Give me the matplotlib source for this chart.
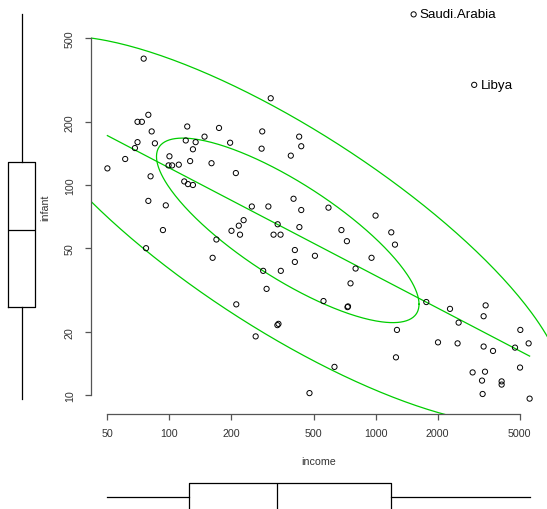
import numpy as np
import matplotlib
matplotlib.use('Agg')
import matplotlib.pyplot as plt
from matplotlib.ticker import NullLocator

plt.rcParams['font.family'] = ['Liberation Sans', 'DejaVu Sans']

# income vs infant mortality (log-log)
income = [75, 310, 1530, 3010, 79, 70, 73.5, 82, 122, 174, 148, 70, 85, 68, 120,
          134, 130, 197, 61, 100, 50, 99, 103, 111, 126, 160, 210, 81, 118, 123,
          130, 79, 96, 229, 217, 200, 93, 77, 169, 220, 162, 211, 282, 426, 436,
          280, 388, 400, 251, 302, 436, 591, 1000, 335, 427, 683, 320, 346, 726,
          406, 406, 508, 956, 800, 285, 347, 756, 296, 559, 731, 735, 334, 338,
          262, 632, 478, 1192, 1242, 1763, 2297, 3420, 3344, 2529, 1270, 5039,
          2009, 2500, 3344, 3714, 4749, 5529, 1256, 5023, 2957, 3396, 3285, 4089,
          4089, 3307, 5590]
infant = [400, 259, 650, 300, 216, 200, 200, 180, 190, 187, 170, 160, 158, 150,
          163, 160, 148, 159, 133, 137, 120, 124, 124, 125, 130, 127, 114, 110,
          104, 101, 100, 84, 80, 68, 64, 60.5, 61, 50, 55, 58, 45, 27, 180, 170,
          153, 149, 138, 86, 79, 79, 76, 78, 71.5, 65, 63, 61, 58, 58, 54, 49, 43,
          46, 45, 40, 39, 39, 34, 32, 28, 26.2, 26.4, 21.5, 21.8, 19, 13.6, 10.2,
          59.5, 52, 27.7, 25.7, 26.7, 23.7, 22.1, 20.4, 20.4, 17.8, 17.6, 17, 16.2,
          16.8, 17.6, 15.1, 13.5, 12.8, 12.9, 11.7, 11.6, 11.2, 10.1, 9.6]
labeled = {'Saudi.Arabia': 2, 'Libya': 3}

x_ticks = [50, 100, 200, 500, 1000, 2000, 5000]
y_ticks = [10, 20, 50, 100, 200, 500]

# marginal boxplots (five-number summaries)
infant_box = dict(whislo=9.6, q1=26.2, med=60.8, q3=129, whishi=650)
income_box = dict(whislo=50, q1=124, med=334, q3=1191, whishi=5596)

# data ellipse in log10 space (centre, sds, correlation), levels .5 and .95
ell_center = (375, 60.8)
ell_sd = (0.539, 0.372)
ell_rho = -0.80
ell_levels = [0.5, 0.95]

green = '#00CD00'
W, H = 547, 510
fig = plt.figure(figsize=(W / 100, H / 100), dpi=100)


def px_axes(x0, y0, x1, y1):
    return fig.add_axes([x0 / W, 1 - y1 / H, (x1 - x0) / W, (y1 - y0) / H])


def log_lim(v):
    lo, hi = np.log10(min(v)), np.log10(max(v))
    pad = 0.04 * (hi - lo)
    return 10 ** (lo - pad), 10 ** (hi + pad)


xlim = log_lim(income)
ylim = log_lim(infant)

ax = px_axes(90.5, 0, 546.5, 415)
ax.set_xscale('log')
ax.set_yscale('log')
ax.set_xlim(xlim)
ax.set_ylim(ylim)

ax.scatter(income, infant, s=14, facecolors='none', edgecolors='black',
           linewidths=0.7, zorder=3)
for name, i in labeled.items():
    ax.annotate(name, (income[i], infant[i]), xytext=(4.5, 0),
                textcoords='offset points', va='center', ha='left', fontsize=9.6)

# least squares line on the log scale
lx, ly = np.log10(income), np.log10(infant)
b, a = np.polyfit(lx, ly, 1)
xs = np.linspace(lx.min(), lx.max(), 50)
ax.plot(10 ** xs, 10 ** (a + b * xs), color=green, lw=0.9)

# ellipses
n = len(income)
m = n - 1
cov = np.array([[ell_sd[0] ** 2, ell_rho * ell_sd[0] * ell_sd[1]],
                [ell_rho * ell_sd[0] * ell_sd[1], ell_sd[1] ** 2]])
L = np.linalg.cholesky(cov)
t = np.linspace(0, 2 * np.pi, 400)
circle = np.vstack([np.cos(t), np.sin(t)])
c = np.log10(ell_center)
for lev in ell_levels:
    fq = (m / 2) * ((1 - lev) ** (-2 / m) - 1)  # qf(lev, 2, n-1)
    r = np.sqrt(2 * fq)
    pts = (L @ circle) * r + c[:, None]
    ax.plot(10 ** pts[0], 10 ** pts[1], color=green, lw=0.9)

for s in ['top', 'right']:
    ax.spines[s].set_visible(False)
ax.spines['left'].set_bounds(y_ticks[0], y_ticks[-1])
ax.spines['bottom'].set_bounds(x_ticks[0], x_ticks[-1])
for s in ['left', 'bottom']:
    ax.spines[s].set_color('#555555')
    ax.spines[s].set_linewidth(0.9)

ax.set_xticks(x_ticks)
ax.set_xticklabels([str(v) for v in x_ticks])
ax.set_yticks(y_ticks)
ax.set_yticklabels([str(v) for v in y_ticks], rotation=90, va='center')
ax.xaxis.set_minor_locator(NullLocator())
ax.yaxis.set_minor_locator(NullLocator())
ax.tick_params(length=4.3, width=0.9, color='#555555', labelsize=7.7,
               labelcolor='#333333')
ax.tick_params(axis='x', pad=6)
ax.tick_params(axis='y', pad=7)

fig.text(318.5 / W, 1 - 462.3 / H, 'income', ha='center', va='center',
         fontsize=7.7, color='#333333')
fig.text(45 / W, 1 - 207.5 / H, 'infant', ha='center', va='center',
         rotation=90, fontsize=7.7, color='#333333')

bprops = dict(showfliers=False, showcaps=False,
              boxprops=dict(color='black', lw=0.9),
              medianprops=dict(color='black', lw=0.9),
              whiskerprops=dict(color='black', lw=0.9))

# left marginal boxplot
axl = px_axes(0, 0, 43.4, 415)
axl.set_yscale('log')
axl.set_ylim(ylim)
axl.set_xlim(-1, 1)
axl.bxp([infant_box], positions=[0], widths=1.217, **bprops)
axl.axis('off')

# bottom marginal boxplot
axb = px_axes(90.5, 474, 546.5, 521.4)
axb.set_xscale('log')
axb.set_xlim(xlim)
axb.set_ylim(-1, 1)
axb.bxp([income_box], positions=[0], widths=1.131, orientation='horizontal',
        **bprops)
axb.axis('off')

fig.savefig('out.png', dpi=100)
